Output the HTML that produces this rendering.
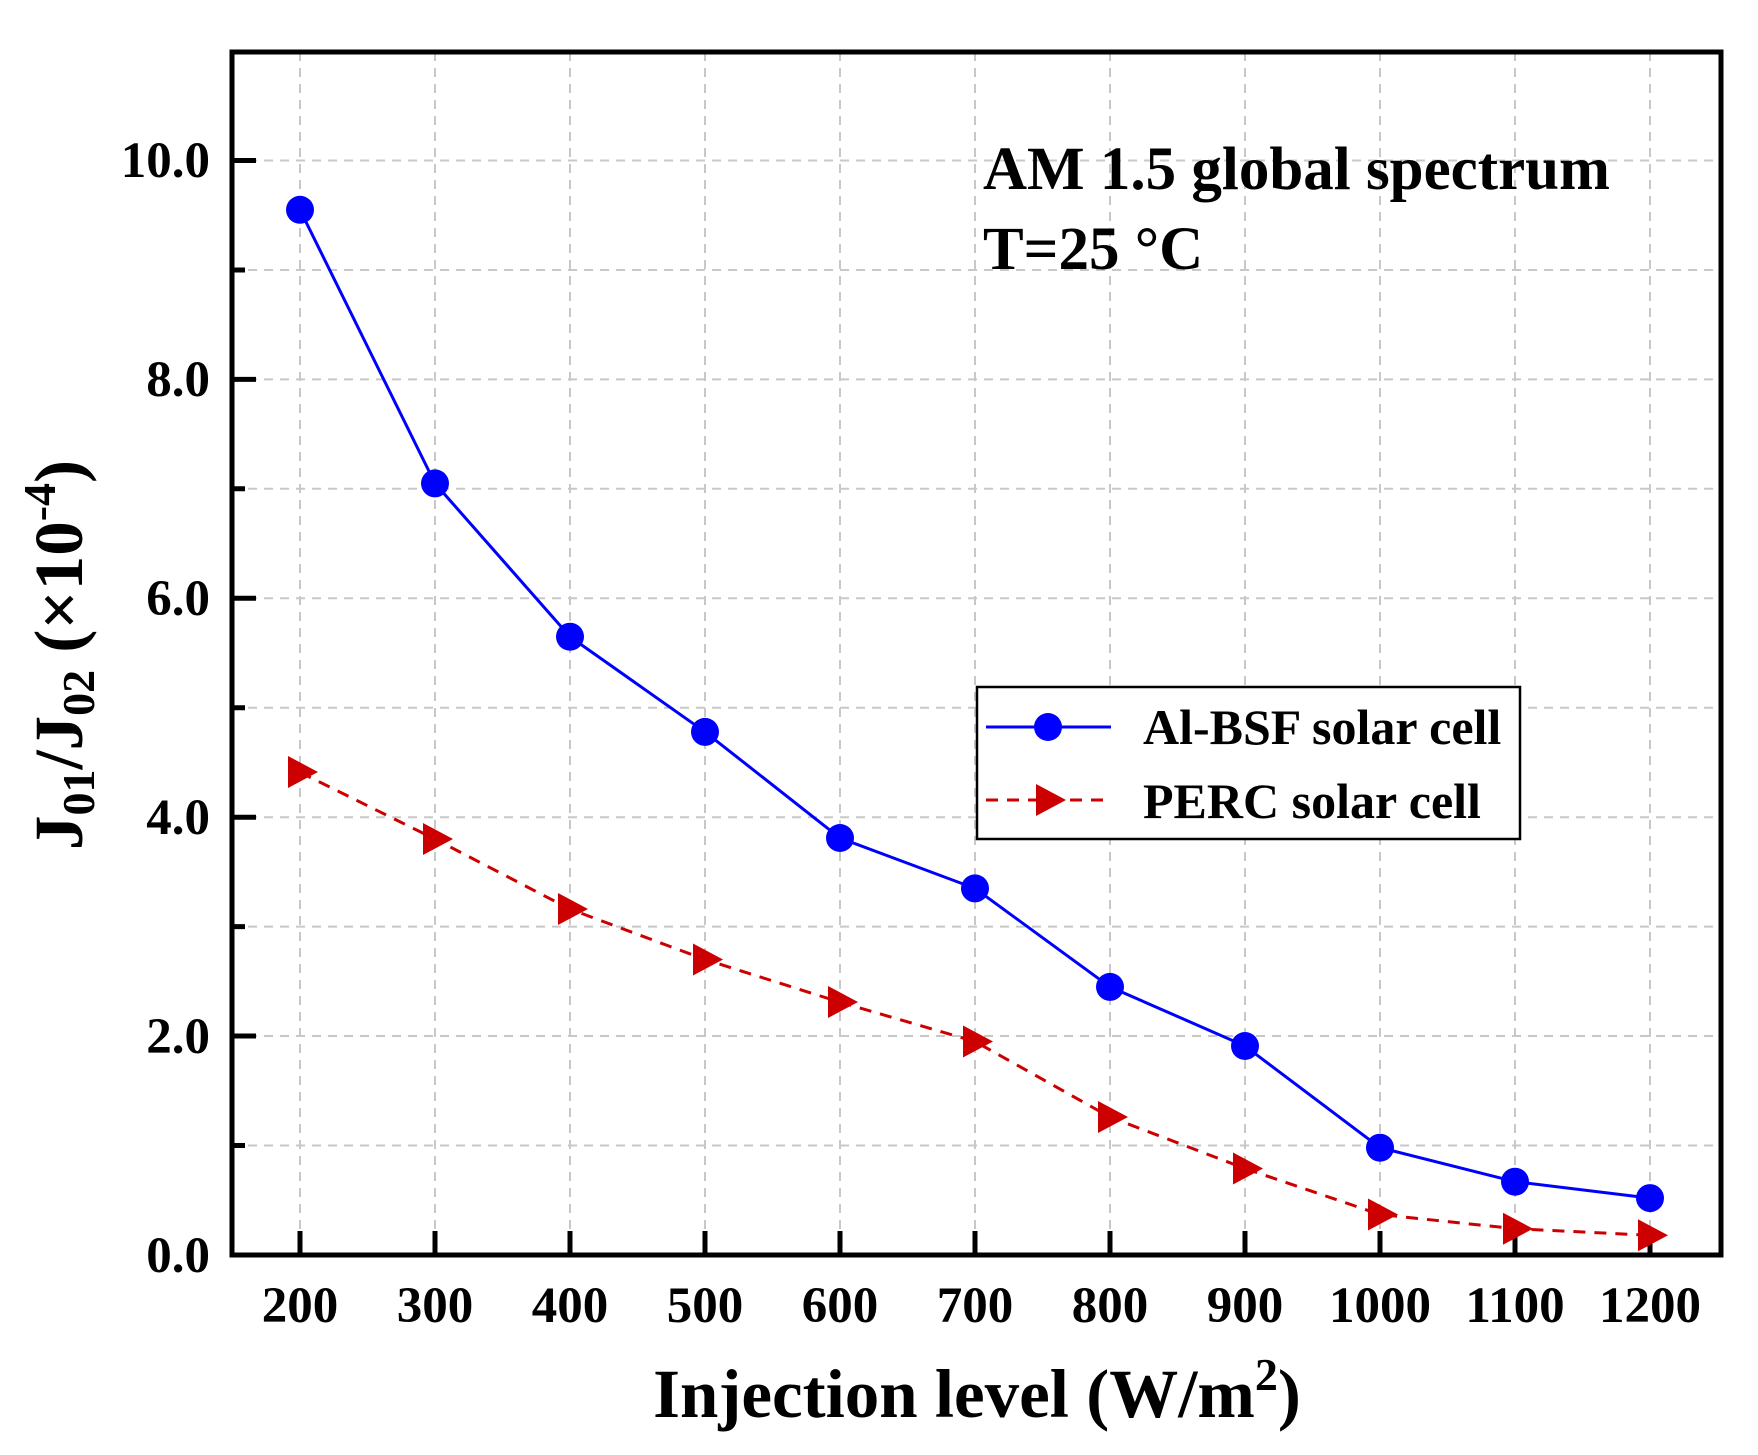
<!DOCTYPE html>
<html><head><meta charset="utf-8"><style>
html,body{margin:0;padding:0;background:#fff;}
svg{display:block;font-family:"Liberation Serif",serif;font-weight:bold;}
</style></head><body>
<svg width="1758" height="1455" viewBox="0 0 1758 1455" xmlns="http://www.w3.org/2000/svg">
<rect width="1758" height="1455" fill="#fff"/>
<g stroke="#c8c8c8" stroke-width="2" stroke-dasharray="9,7" fill="none">
<path d="M300,52V1255M435,52V1255M570,52V1255M705,52V1255M840,52V1255M975,52V1255M1110,52V1255M1245,52V1255M1380,52V1255M1515,52V1255M1650,52V1255"/>
<path d="M232,1145.5H1721M232,1036H1721M232,926.6H1721M232,817.2H1721M232,707.7H1721M232,598.3H1721M232,488.8H1721M232,379.4H1721M232,270H1721M232,160.5H1721"/>
</g>
<g stroke="#000" stroke-width="5">
<path d="M300,1255v-24M435,1255v-24M570,1255v-24M705,1255v-24M840,1255v-24M975,1255v-24M1110,1255v-24M1245,1255v-24M1380,1255v-24M1515,1255v-24M1650,1255v-24"/>
<path d="M232,1036h24M232,817.2h24M232,598.3h24M232,379.4h24M232,160.5h24"/>
<path d="M232,1145.5h13M232,926.6h13M232,707.7h13M232,488.8h13M232,270h13"/>
</g>
<rect x="232" y="52" width="1489" height="1203" fill="none" stroke="#000" stroke-width="5"/>
<g font-size="51" text-anchor="end">
<text x="210" y="1272">0.0</text><text x="210" y="1053">2.0</text><text x="210" y="834">4.0</text><text x="210" y="615">6.0</text><text x="210" y="396">8.0</text><text x="210" y="177">10.0</text>
</g>
<g font-size="51" text-anchor="middle">
<text x="300" y="1322">200</text><text x="435" y="1322">300</text><text x="570" y="1322">400</text><text x="705" y="1322">500</text><text x="840" y="1322">600</text><text x="975" y="1322">700</text><text x="1110" y="1322">800</text><text x="1245" y="1322">900</text><text x="1380" y="1322">1000</text><text x="1515" y="1322">1100</text><text x="1650" y="1322">1200</text>
</g>
<text x="977" y="1417" font-size="69" text-anchor="middle">Injection level (W/m<tspan font-size="46" dy="-27">2</tspan><tspan dy="27">)</tspan></text>
<text transform="translate(82,655) rotate(-90)" font-size="69" text-anchor="middle">J<tspan font-size="46" dy="12">01</tspan><tspan dy="-12">/J</tspan><tspan font-size="46" dy="12">02</tspan><tspan dy="-12"> (×10</tspan><tspan font-size="46" dy="-27">-4</tspan><tspan dy="27">)</tspan></text>
<text x="983" y="189" font-size="61">AM 1.5 global spectrum</text>
<text x="983" y="269" font-size="61">T=25 °C</text>
<polyline fill="none" stroke="#0000ff" stroke-width="3" points="300,209.8 435,483.4 570,636.7 705,731.9 840,838 975,888.4 1110,986.9 1245,1046 1380,1147.7 1515,1181.7 1650,1198.1"/>
<g fill="#0000ff">
<circle cx="300" cy="209.8" r="14"/><circle cx="435" cy="483.4" r="14"/><circle cx="570" cy="636.7" r="14"/><circle cx="705" cy="731.9" r="14"/><circle cx="840" cy="838" r="14"/><circle cx="975" cy="888.4" r="14"/><circle cx="1110" cy="986.9" r="14"/><circle cx="1245" cy="1046" r="14"/><circle cx="1380" cy="1147.7" r="14"/><circle cx="1515" cy="1181.7" r="14"/><circle cx="1650" cy="1198.1" r="14"/>
</g>
<polyline fill="none" stroke="#cc0000" stroke-width="3" stroke-dasharray="12,9" points="300,772.3 435,839.1 570,909.1 705,959.5 840,1002.2 975,1041.5 1110,1117.1 1245,1168.5 1380,1214.5 1515,1228.7 1650,1235.3"/>
<g fill="#cc0000">
<path d="M288,756l30,16l-30,16z"/><path d="M423,823l30,16l-30,16z"/><path d="M558,893l30,16l-30,16z"/><path d="M693,943.5l30,16l-30,16z"/><path d="M828,986l30,16l-30,16z"/><path d="M963,1025.5l30,16l-30,16z"/><path d="M1098,1101l30,16l-30,16z"/><path d="M1233,1152.5l30,16l-30,16z"/><path d="M1368,1198.5l30,16l-30,16z"/><path d="M1503,1212.7l30,16l-30,16z"/><path d="M1638,1219.3l30,16l-30,16z"/>
</g>
<rect x="977" y="687" width="543" height="152" fill="#fff" stroke="#000" stroke-width="2.5"/>
<line x1="986" y1="727" x2="1111" y2="727" stroke="#0000ff" stroke-width="3"/>
<circle cx="1048" cy="727" r="14" fill="#0000ff"/>
<line x1="986" y1="800" x2="1111" y2="800" stroke="#cc0000" stroke-width="3" stroke-dasharray="12,9"/>
<path d="M1036,784l30,16l-30,16z" fill="#cc0000"/>
<text x="1143" y="744" font-size="50">Al-BSF solar cell</text>
<text x="1143" y="818" font-size="50">PERC solar cell</text>
</svg>
</body></html>
